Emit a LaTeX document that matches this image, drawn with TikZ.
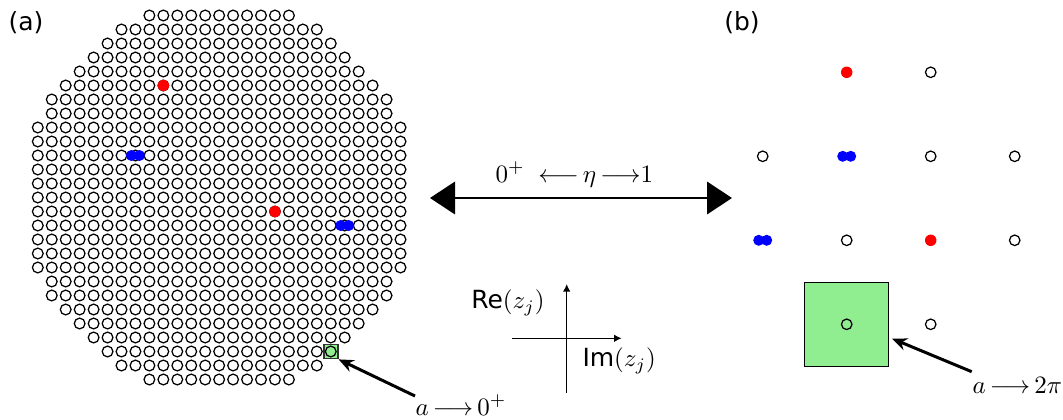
\documentclass[tikz,border=0pt]{standalone}
\usepackage[no-math]{fontspec}
\usepackage{amsmath}
\usetikzlibrary{arrows.meta}
\newfontfamily\dejavu{DejaVu Sans}
\definecolor{sitegreen}{HTML}{90EE90}

\begin{document}
\begin{tikzpicture}[
    x=0.4pt, y=-0.4pt,
    site/.style={draw=black, line width=0.5pt, fill=white},
    greenbox/.style={rectangle, draw=black!80, fill=sitegreen, line width=0.7pt, inner sep=0pt},
    pointer/.style={-{Stealth[length=6pt,width=5pt]}, line width=1.2pt},
    axis/.style={-{Latex[length=3pt,width=3pt]}, line width=0.6pt},
    bigarrow/.style={{Triangle[length=10pt,width=13pt]}-{Triangle[length=10pt,width=13pt]}, line width=0.8pt},
    tag/.style={font=\dejavu\fontsize{10}{12}\selectfont, inner sep=0pt},
    lbl/.style={font=\fontsize{10}{12}\selectfont, inner sep=0pt}
]
\useasboundingbox (0,0) rectangle (1063,419);

% (a) sites inside a disk of radius 14
\foreach \i in {0,...,26}{
  \foreach \j in {0,...,26}{
    \pgfmathtruncatemacro{\rr}{(\i-13)*(\i-13)+(\j-13)*(\j-13)}
    \ifnum\rr<197
      \draw[site] (37.8+13.95*\i, 15.5+14*\j) circle[radius=2.15pt];
    \fi
  }
}
\fill[red] (37.8+13.95*9, 15.5+14*5) circle[radius=2.3pt];
\fill[red] (37.8+13.95*17, 15.5+14*14) circle[radius=2.3pt];
\foreach \cx/\cy in {135.4/155.5, 344.7/225.5}{
  \fill[blue] (\cx-4, \cy) circle[radius=2.2pt];
  \fill[blue] (\cx+4, \cy) circle[radius=2.2pt];
}
\node[greenbox, minimum size=5.6pt] (sqA) at (37.8+13.95*21, 15.5+14*24) {};
\draw[site, fill=sitegreen] (sqA) circle[radius=2.15pt];

% (b) close-up of the lattice
\node[greenbox, draw=black, line width=0.6pt, minimum size=33.6pt] (sqB) at (762.7+84, 72.3+84*3) {};
\foreach \k/\m in {2/0, 0/1, 2/1, 3/1, 1/2, 3/2, 1/3, 2/3}
  \draw[site, fill=none] (762.7+84*\k, 72.3+84*\m) circle[radius=2.1pt];
\fill[red] (762.7+84, 72.3) circle[radius=2.3pt];
\fill[red] (762.7+84*2, 72.3+84*2) circle[radius=2.3pt];
\foreach \cx/\cy in {846.7/156.3, 762.7/240.3}{
  \fill[blue] (\cx-4, \cy) circle[radius=2.2pt];
  \fill[blue] (\cx+4, \cy) circle[radius=2.2pt];
}

% panel tags
\node[tag] (tagA) at (26,23) {(a)};
\node[tag] (tagB) at (742,23) {(b)};

% eta arrow
\coordinate (etaL) at (430,198);
\coordinate (etaR) at (732,198);
\draw[bigarrow] (etaL) -- (etaR);
\node[lbl, anchor=base west] (eta) at (495,182) {$0^+\;\;{\longleftarrow}\,{\eta}\,{\longrightarrow}{1}$};

% axes
\coordinate (axW) at (511.7,338.3);
\coordinate (axE) at (621.7,338.3);
\coordinate (axS) at (566.7,393);
\coordinate (axN) at (566.7,284);
\draw[axis] (axW) -- (axE);
\draw[axis] (axS) -- (axN);
\node[tag, anchor=east] (re) at (545,303) {Re$(z_j)$};
\node[tag, anchor=west] (im) at (582,361) {Im$(z_j)$};

% limits
\node[lbl, anchor=base west] (limA) at (415,415) {$a\,{\longrightarrow}\,0^+$};
\coordinate (tailA) at (415,396);
\draw[pointer] (tailA) -- (sqA.south east);
\node[lbl, anchor=base west] (limB) at (972,393) {$a\,{\longrightarrow}\,2\pi$};
\coordinate (tailB) at (971.7,371.7);
\draw[pointer] (tailB) -- ([xshift=1pt,yshift=-5.7pt]sqB.east);
\end{tikzpicture}
\end{document}
